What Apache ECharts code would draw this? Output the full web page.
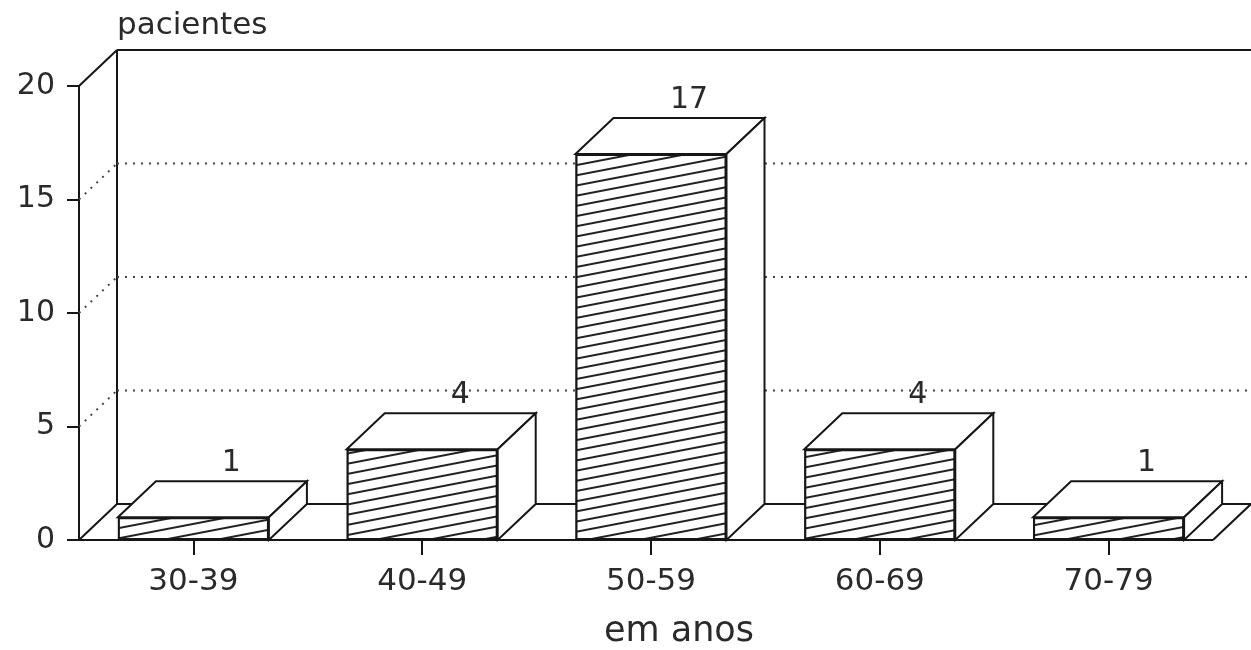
<!DOCTYPE html>
<html>
<head>
<meta charset="utf-8">
<script src="https://cdn.jsdelivr.net/npm/echarts@6/dist/echarts.min.js"></script>
<style>
  html, body { margin: 0; padding: 0; background: #fff; }
  #chart { width: 1251px; height: 650px; }
</style>
</head>
<body>
<div id="chart"></div>
<script>
// ---- data ----
const categories = ['30-39', '40-49', '50-59', '60-69', '70-79'];
const patients = [1, 4, 17, 4, 1];
const yTicks = [0, 5, 10, 15, 20];
const yAxisName = 'pacientes';
const xAxisName = 'em anos';

// ---- styling constants ----
const DX = 38, DY = -36;          // pseudo-3D depth offset (pixels)
const INK = '#161616';
const TEXT = '#2a2a2a';
const FONT = 'DejaVu Sans';
const BAR_RATIO = 0.66;

const chart = echarts.init(document.getElementById('chart'));

function frameItem(params, api) {
  const v = api.value(1);
  const p = api.coord([0, v]);
  const bw = api.size([1, 0])[0];
  const left = p[0] - bw / 2;
  const right = left + bw * categories.length;
  const y = p[1];
  const yMax = yTicks[yTicks.length - 1];
  const solid = { stroke: INK, lineWidth: 2, fill: null };
  const dotted = { stroke: '#444', lineWidth: 2, lineDash: [2, 6], fill: null };
  const ch = [];
  const line = (x1, y1, x2, y2, st) => ch.push({ type: 'line', shape: { x1, y1, x2, y2 }, style: st });
  const floorRight = right - 10;
  if (v === 0) {
    const yTop = api.coord([0, yMax])[1];
    line(left - 12, y, floorRight, y, solid);                 // floor front
    line(left, y, left + DX, y + DY, solid);                   // floor left diagonal
    line(left + DX, y + DY, floorRight + DX, y + DY, solid);   // floor back
    line(floorRight, y, floorRight + DX, y + DY, solid);       // floor right diagonal
    line(left + DX, y + DY, left + DX, yTop + DY, solid);      // back wall vertical
  } else if (v === yMax) {
    line(left, y, left + DX, y + DY, solid);
    line(left + DX, y + DY, right + DX + 60, y + DY, solid);
  } else {
    line(left, y, left + DX, y + DY, dotted);
    line(left + DX, y + DY, floorRight + DX, y + DY, dotted);
  }
  return { type: 'group', children: ch };
}

function facesItem(params, api) {
  const i = api.value(0);
  const v = api.value(1);
  const top = api.coord([i, v]);
  const base = api.coord([i, 0]);
  const w = api.size([1, 0])[0] * BAR_RATIO;
  const x0 = top[0] - w / 2, x1 = top[0] + w / 2;
  const yt = top[1], yb = base[1];
  const st = { fill: '#fff', stroke: INK, lineWidth: 2, lineJoin: 'miter' };
  return {
    type: 'group',
    children: [
      { type: 'polygon', shape: { points: [[x0, yt], [x0 + DX, yt + DY], [x1 + DX, yt + DY], [x1, yt]] }, style: st },
      { type: 'polygon', shape: { points: [[x1, yt], [x1 + DX, yt + DY], [x1 + DX, yb + DY], [x1, yb]] }, style: st },
      { type: 'text', style: { text: String(v), x: (x0 + x1) / 2 + DX, y: yt + DY - 3,
          align: 'center', verticalAlign: 'bottom', fontSize: 30, fontFamily: FONT, fill: TEXT } }
    ]
  };
}

const option = {
  backgroundColor: '#fff',
  animation: false,
  grid: { left: 79, right: 28, top: 86, bottom: 110, containLabel: false, outerBoundsMode: 'none' },
  xAxis: {
    type: 'category',
    data: categories,
    boundaryGap: true,
    name: xAxisName,
    nameLocation: 'middle',
    nameGap: 74,
    nameTextStyle: { fontSize: 35, fontFamily: FONT, color: TEXT, padding: [0, 0, 0, 56] },
    axisLine: { show: false },
    axisTick: { show: true, alignWithLabel: true, length: 15, lineStyle: { color: INK, width: 2 } },
    axisLabel: { fontSize: 31, fontFamily: FONT, color: TEXT, margin: 26 },
    splitLine: { show: false }
  },
  yAxis: {
    type: 'value',
    min: 0, max: 20, interval: 5,
    name: yAxisName,
    nameLocation: 'end',
    nameGap: 45,
    nameTextStyle: { fontSize: 31, fontFamily: FONT, color: TEXT, align: 'left', padding: [0, 0, 0, 38] },
    axisLine: { show: true, lineStyle: { color: INK, width: 2 } },
    axisTick: { show: true, inside: false, length: 12, lineStyle: { color: INK, width: 2 } },
    axisLabel: { fontSize: 30, fontFamily: FONT, color: TEXT, margin: 24 },
    splitLine: { show: false }
  },
  series: [
    {
      type: 'custom',
      name: 'frame',
      clip: false,
      z: 1,
      silent: true,
      renderItem: frameItem,
      encode: { x: 0, y: 1 },
      data: yTicks.map(t => [0, t])
    },
    {
      type: 'bar',
      name: 'front',
      z: 2,
      barWidth: (BAR_RATIO * 100) + '%',
      itemStyle: {
        color: '#fff',
        borderColor: INK,
        borderWidth: 2,
        decal: {
          symbol: 'rect',
          symbolSize: 1,
          color: '#222',
          backgroundColor: '#fff',
          dashArrayX: [1, 0],
          dashArrayY: [2, 8],
          rotation: -0.19
        }
      },
      data: patients
    },
    {
      type: 'custom',
      name: 'faces',
      clip: false,
      z: 3,
      silent: true,
      renderItem: facesItem,
      encode: { x: 0, y: 1 },
      data: patients.map((v, i) => [i, v])
    }
  ]
};
chart.setOption(option);
</script>
</body>
</html>
